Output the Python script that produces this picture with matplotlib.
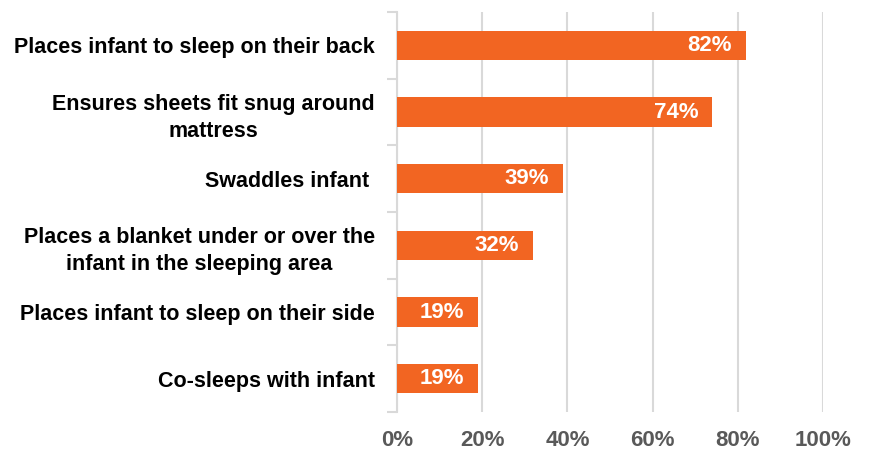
import matplotlib.pyplot as plt
import numpy as np

# Dados
categorias = ['Places infant to sleep on their back',
              'Ensures sheets fit snug around\nmattress',
              'Swaddles infant ',
              'Places a blanket under or over the\ninfant in the sleeping area',
              'Places infant to sleep on their side',
              'Co-sleeps with infant']
valores = [82, 74, 39, 32, 19, 19]
ticks_x = [0, 20, 40, 60, 80, 100]

laranja = '#F26522'
cinza = '#D9D9D9'

plt.rcParams['font.family'] = ['Liberation Sans', 'DejaVu Sans']

fig = plt.figure(figsize=(8.69, 4.53), dpi=100)
ax = fig.add_axes([0.4569, 0.0905, 0.947 - 0.4569, 0.9735 - 0.0905])

y = np.arange(len(categorias))
ax.barh(y, valores, height=0.44, color=laranja, zorder=3)

# rótulos de valor dentro da barra
for yi, v in zip(y, valores):
    ax.text(v - 3.3, yi, f'{v}%', ha='right', va='center', color='white',
            fontsize=16, fontweight='bold', zorder=4)

ax.set_xlim(0, 100)
ax.set_ylim(len(categorias) - 0.5, -0.5)
ax.set_xticks(ticks_x)
ax.set_xticklabels([f'{t}%' for t in ticks_x], fontsize=16, fontweight='bold',
                   color='#595959')
ax.tick_params(axis='x', length=0, pad=13)
ax.grid(axis='x', color=cinza, linewidth=1.5, zorder=0)

ax.set_yticks(y)
ax.set_yticklabels(categorias, fontsize=15.5, fontweight='bold', color='black',
                   multialignment='center', linespacing=1.4)
ax.tick_params(axis='y', which='major', length=0, pad=16)
ax.set_yticks(np.arange(len(categorias) + 1) - 0.5, minor=True)
ax.tick_params(axis='y', which='minor', length=7, width=1.5, color=cinza)

for s in ['top', 'right', 'bottom']:
    ax.spines[s].set_visible(False)
ax.spines['left'].set_color(cinza)
ax.spines['left'].set_linewidth(1.5)

fig.savefig('out.png', dpi=100)
